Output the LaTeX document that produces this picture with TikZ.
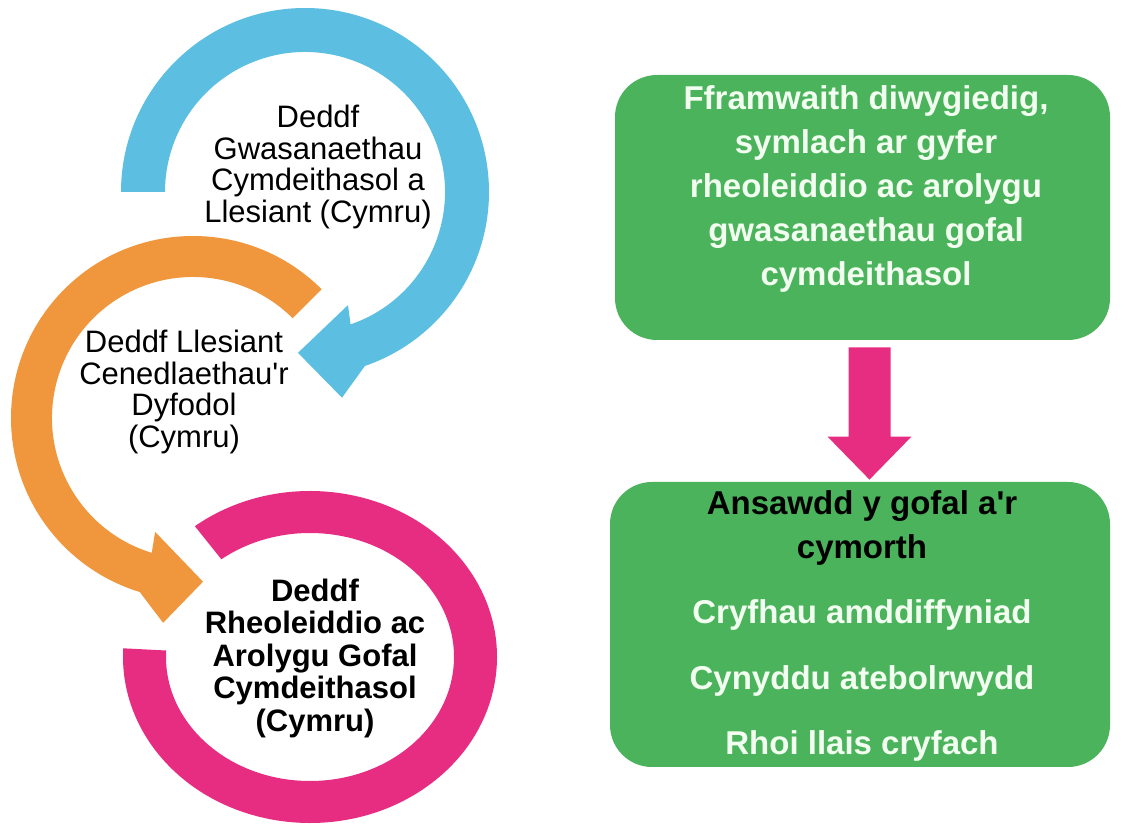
\documentclass[tikz,border=0pt]{standalone}
\usepackage{fontspec}
\setmainfont{Liberation Sans}[Ligatures=TeXOff]
\usepackage{xcolor}
\definecolor{ArcBlue}{HTML}{5CBFE2}
\definecolor{ArcOrange}{HTML}{F0963C}
\definecolor{ArcPink}{HTML}{E72D82}
\definecolor{BoxGreen}{HTML}{4CB35D}
\definecolor{BoxText}{HTML}{F2FFF0}
\usepackage{tikz}
\usetikzlibrary{calc}

\tikzset{
  lawtext/.style={align=center, inner sep=0pt, font=\fontsize{15.5}{15.75}\selectfont},
  greenbox/.style={fill=BoxGreen, rounded corners=21pt, inner sep=0pt},
  boxtext/.style={align=center, inner sep=0pt, text=BoxText, font=\bfseries\fontsize{16.5}{22}\selectfont}
}

\begin{document}
\begin{tikzpicture}[x=0.5pt,y=0.5pt]
  \useasboundingbox (0,0) rectangle (1137,826);
  % circular arrows
  \begin{scope}[shift={(193,408)}]
    \fill[ArcOrange] (45:182) arc[start angle=45,end angle=253,radius=182]
      -- (261.7:207) -- (273.5:164) -- (251.6:120)
      -- (253:141) arc[start angle=253,end angle=45,radius=141] -- cycle;
  \end{scope}
  \begin{scope}[shift={(305,634)}]
    \fill[ArcBlue] (180:184) arc[start angle=180,end angle=-71,radius=184]
      -- (-79.8:209) -- (-92.5:161) -- (-69.2:121)
      -- (-71:140) arc[start angle=-71,end angle=180,radius=140] -- cycle;
  \end{scope}
  \begin{scope}[shift={(310,169)}]
    \fill[ArcPink] (128:187 and 166) arc[start angle=128,end angle=-183,x radius=187,y radius=166]
      -- (-183:144 and 124) arc[start angle=-183,end angle=128,x radius=144,y radius=124] -- cycle;
  \end{scope}

  \node[lawtext] (blueact) at (318,659) {Deddf\\Gwasanaethau\\Cymdeithasol a\\Llesiant (Cymru)};
  \node[lawtext] (orangeact) at (184,434) {Deddf Llesiant\\Cenedlaethau'r\\Dyfodol\\(Cymru)};
  \node[lawtext, font=\bfseries\fontsize{15.5}{16.25}\selectfont] (pinkact) at (315,168)
    {Deddf\\Rheoleiddio ac\\Arolygu Gofal\\Cymdeithasol\\(Cymru)};

  % green boxes
  \node[greenbox, minimum width=247.5pt, minimum height=132.5pt] (frame) at (862.5,618.5) {};
  \node[greenbox, minimum width=250pt, minimum height=142.5pt] (quality) at (860,201.5) {};

  \node[boxtext] (frametext) at (866,637)
    {Fframwaith diwygiedig,\\symlach ar gyfer\\rheoleiddio ac arolygu\\gwasanaethau gofal\\cymdeithasol};
  \node[boxtext, text=black] (qualitytitle) at (862,298) {Ansawdd y gofal a'r\\cymorth};
  \node[boxtext] (itemone) at (862,211) {Cryfhau amddiffyniad};
  \node[boxtext] (itemtwo) at (862,145) {Cynyddu atebolrwydd};
  \node[boxtext] (itemthree) at (862,80) {Rhoi llais cryfach};

  % block arrow
  \coordinate (arrtop) at ($(frame.south)+(7,-7)$);
  \coordinate (arrtip) at ($(arrtop |- quality.north)+(0,2)$);
  \fill[ArcPink] ($(arrtop)+(-21,0)$) -- ($(arrtop)+(21,0)$) -- ($(arrtip)+(21,43)$)
    -- ($(arrtip)+(42,43)$) -- (arrtip) -- ($(arrtip)+(-42,43)$) -- ($(arrtip)+(-21,43)$) -- cycle;
\end{tikzpicture}
\end{document}
